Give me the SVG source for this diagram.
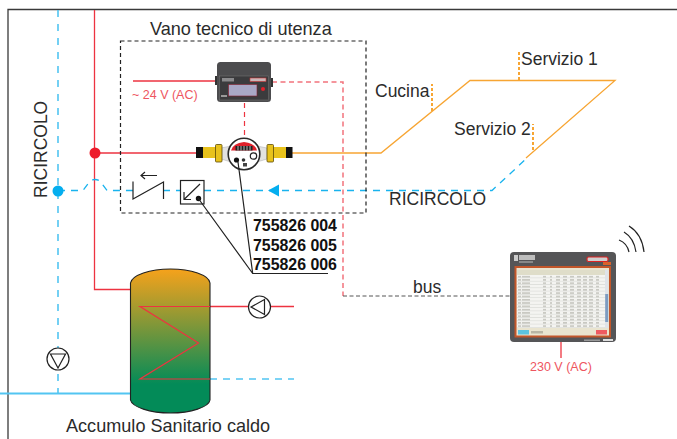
<svg xmlns="http://www.w3.org/2000/svg" width="677" height="439" viewBox="0 0 677 439">
<style>
text{font-family:"Liberation Sans",Arial,sans-serif;font-size:17.500px;fill:#2b2b2b}
.lg{font-size:18.100px}
.bold{font-weight:700;font-size:15.900px;fill:#111}
.red{font-size:12.500px;fill:#ee5560}
.rp{fill:none;stroke:#ed3340;stroke-width:1.300}
.pk{fill:none;stroke:#f2737c;stroke-width:1.500;stroke-dasharray:5 3.500}
.bl{fill:none;stroke:#19b3ee;stroke-width:1.300;stroke-dasharray:7 6}
.bl2{fill:none;stroke:#52c5f2;stroke-width:1.600;stroke-dasharray:7 7}
.or{fill:none;stroke:#f7a533;stroke-width:1.300}
.ord{fill:none;stroke:#f7a533;stroke-width:2;stroke-dasharray:3 2}
.k{fill:none;stroke:#222;stroke-width:1.200}
.fit{fill:#e8c21c}
.nut{fill:#e8c21c;stroke:#5a4a08;stroke-width:.8}
</style>
<defs>
<linearGradient id="tk" x1="0" y1="0" x2="0" y2="1"><stop offset="0" stop-color="#f6a21b"/><stop offset=".8" stop-color="#038b58"/><stop offset="1" stop-color="#038b58"/></linearGradient>
<pattern id="rows" width="88" height="3.300" patternUnits="userSpaceOnUse" x="517" y="275"><rect width="88" height="3.300" fill="#f4f4f1"/><rect y="2.800" width="88" height=".5" fill="#d2d3cf"/><g fill="#bcbcb4"><rect x="1" y="1" width="3" height="1.200"/><rect x="5" y="1" width="8" height="1.200"/><rect x="26" y="1" width="3" height="1.200"/><rect x="33" y="1" width="2" height="1.200"/><rect x="39" y="1" width="4" height="1.200"/><rect x="46" y="1" width="4" height="1.200"/><rect x="53" y="1" width="4" height="1.200"/><rect x="60" y="1" width="4" height="1.200"/><rect x="66" y="1" width="4" height="1.200"/><rect x="72" y="1" width="4" height="1.200"/><rect x="79" y="1" width="3" height="1.200"/></g></pattern>
</defs>
<rect width="677" height="439" fill="#fff"/>
<path d="M8 439V9.500H677" fill="none" stroke="#3a3a3a" stroke-width="1.300"/>
<g id="connectors">
<path class="rp" d="M94.500 10V289.500H131"/>
<path class="rp" d="M95 153H197"/>
<path class="rp" d="M133 81H217"/>
<path class="bl2" d="M58 10V393"/>
<path d="M0 393.500H131" fill="none" stroke="#52c5f2" stroke-width="1.800"/>
<path class="bl" d="M58 190.500H83L90 181Q95 178 100 181L107 190.500H133"/>
<path class="bl" d="M163 190.500H180"/>
<path class="bl" d="M204 190.500H492L527 158"/>
<path class="or" d="M292 153H381L470 80.500H615L526 158"/>
<path class="ord" d="M519 80V52M432 111V84M533 150V124"/>
<path class="pk" d="M272 82H343V296"/>
<path d="M343 296H510" fill="none" stroke="#555" stroke-width="1" stroke-dasharray="4 2.500"/>
<path d="M244.500 103V138" fill="none" stroke="#ed3340" stroke-width="1.200" stroke-dasharray="5 4"/>
<path class="rp" d="M561 342V358"/>
<path d="M210 379H294" fill="none" stroke="#52c5f2" stroke-width="1.500" stroke-dasharray="7 6"/>
<path d="M210 306.500H294" fill="none" stroke="#ed3340" stroke-width="1.500"/>
<circle cx="95" cy="153" r="5.500" fill="#ed1c2b"/>
<circle cx="58" cy="191" r="5.500" fill="#04aeef"/>
<path d="M268 190.500L279 184.500V196.500Z" fill="#04aeef"/>
</g>
<g id="vano">
<rect x="120.500" y="41" width="245.500" height="172" fill="none" stroke="#222" stroke-width="1.200" stroke-dasharray="4 3"/>
<text class="lg" x="150" y="34.500">Vano tecnico di utenza</text>
</g>
<g id="regolatore">
<rect x="215" y="76" width="3" height="9" fill="#333"/><rect x="270" y="78" width="3" height="9" fill="#333"/>
<rect x="217" y="62" width="54" height="40" rx="3.500" fill="#4c4c4e"/>
<rect x="219.500" y="76" width="49" height="24" fill="#3b3b3d" stroke="#777" stroke-width=".5"/>
<rect x="222" y="78" width="12" height="3.500" fill="#8a8a8c"/>
<rect x="250" y="78" width="16" height="3.500" fill="#c9b6b8" stroke="#c33" stroke-width=".6"/>
<rect x="228.500" y="84.500" width="28.500" height="11.500" fill="#a9a8c6" stroke="#8a2030" stroke-width=".6"/>
<circle cx="263" cy="89" r="2" fill="#e0212b"/>
<rect x="221" y="95" width="6" height="2" fill="#999"/>
</g>
<g id="contatore">
<path d="M221 148L231 146V162L221 159ZM267 148L257 146V162L267 159Z" fill="#e2e2e2" stroke="#999" stroke-width=".4"/>
<rect x="196" y="147" width="7" height="11" fill="#111"/>
<rect x="203" y="147" width="13" height="11" class="fit"/>
<rect x="215.500" y="144.500" width="6.500" height="17.500" rx="1" class="nut"/>
<rect x="273" y="147" width="13" height="11" class="fit"/>
<rect x="267" y="144.500" width="6.500" height="17.500" rx="1" class="nut"/>
<rect x="286" y="147" width="6.500" height="11" fill="#111"/>
<circle cx="244" cy="154" r="15.800" fill="#fff" stroke="#2a2a2a" stroke-width="1.600"/>
<path d="M231 150.500Q233 143 244 142Q255 143 257 150.500Z" fill="#e0212b"/>
<rect x="235.500" y="146" width="17" height="4.500" fill="#222"/>
<path d="M238 146V150.500M241 146V150.500M244 146V150.500M247 146V150.500M250 146V150.500" stroke="#ddd" stroke-width=".8"/>
<circle cx="253.500" cy="156" r="3.200" fill="#fff" stroke="#222" stroke-width="1.200"/>
<circle cx="236.500" cy="160" r="2.600" fill="#111"/>
<circle cx="243.500" cy="160" r="1.800" fill="#333"/>
<rect x="243" y="163" width="4" height="3.500" fill="#444"/>
</g>
<g id="valvola">
<path class="k" d="M133 181.500V199L163.500 182V199"/>
<path class="k" d="M157 175.500H141.500M145 172L141 175.500L145 179"/>
</g>
<g id="sensore">
<rect x="180.500" y="180.500" width="23.500" height="23.500" fill="#fff" stroke="#222" stroke-width="1.200"/>
<path class="k" d="M200 184L184 199.500M184 192V199.500H191"/>
<circle cx="198.500" cy="198.500" r="2.700" fill="#111"/>
</g>
<g id="codici">
<path class="k" d="M238 162L252.700 273.500H328M252.700 273.500L198 198"/>
<text class="bold" x="253" y="231">755826 004</text>
<text class="bold" x="253" y="250.500">755826 005</text>
<text class="bold" x="253" y="269.500">755826 006</text>
</g>
<g id="accumulo">
<path d="M130.500 283C132 275 150 269 170.500 269C191 269 209 275 210 283V400C209 407 191 413 170.500 413C150 413 132 407 130.500 400Z" fill="url(#tk)" stroke="#222" stroke-width="1.100"/>
<path d="M210 306.500H140L198.500 343L140 379H210" fill="none" stroke="#ed3340" stroke-width="1.200"/>
<text class="lg" x="66" y="432">Accumulo Sanitario caldo</text>
</g>
<g id="pompa-1">
<circle cx="259.500" cy="307" r="11" fill="#fff" stroke="#222" stroke-width="1.200"/>
<path class="k" d="M251 307L264.500 299.500V314.500Z"/>
</g>
<g id="pompa-2">
<circle cx="58" cy="359" r="11" fill="#fff" stroke="#222" stroke-width="1.200"/>
<path class="k" d="M50.500 354H65.500L58 368Z"/>
</g>
<g id="display">
<rect x="510" y="252" width="106" height="90" rx="4" fill="#555557"/>
<rect x="514.500" y="266" width="96.500" height="71.500" fill="#c2562a"/>
<rect x="516.500" y="268" width="92.500" height="67.500" fill="#e9e4cf"/>
<rect x="517" y="270" width="88" height="5" fill="#dfddc9"/>
<rect x="517" y="275" width="88" height="53" fill="url(#rows)"/>
<rect x="605" y="270" width="3.500" height="58" fill="#dfe3e8"/><rect x="605.200" y="294" width="3" height="28" fill="#7e9cc0"/>
<rect x="518" y="330" width="11" height="4.500" fill="#5cc3e0"/>
<rect x="596" y="330" width="11" height="4.500" fill="#ee5a60"/>
<rect x="531" y="331" width="12" height="2.500" fill="#b8b5a4"/>
<rect x="514" y="255" width="4" height="6" fill="#ccc"/><rect x="519" y="255" width="16" height="5" fill="#bdbdbd"/><rect x="519" y="261" width="14" height="2" fill="#888"/>
<rect x="587" y="257" width="21" height="4.500" rx="1.500" fill="#cfcfcf" stroke="#d22" stroke-width="1.200"/>
<rect x="603" y="262" width="8" height="3" fill="#d9622b"/>
<rect x="603" y="339" width="10" height="2" fill="#ddd"/><rect x="584" y="339.500" width="16" height="1.500" fill="#999"/>
<path class="k" d="M619 240Q627 243 629 252M624 232Q634 238 636 252M629 226Q642 234 644 252"/>
</g>
<text class="red" x="530" y="371">230 V (AC)</text>
<text class="red" x="132" y="99">~ 24 V (AC)</text>
<text transform="translate(47 198) rotate(-90)">RICIRCOLO</text>
<text x="389" y="205">RICIRCOLO</text>
<text x="413" y="293">bus</text>
<text x="375" y="97">Cucina</text>
<text x="521" y="65">Servizio 1</text>
<text x="454" y="135">Servizio 2</text>
</svg>
